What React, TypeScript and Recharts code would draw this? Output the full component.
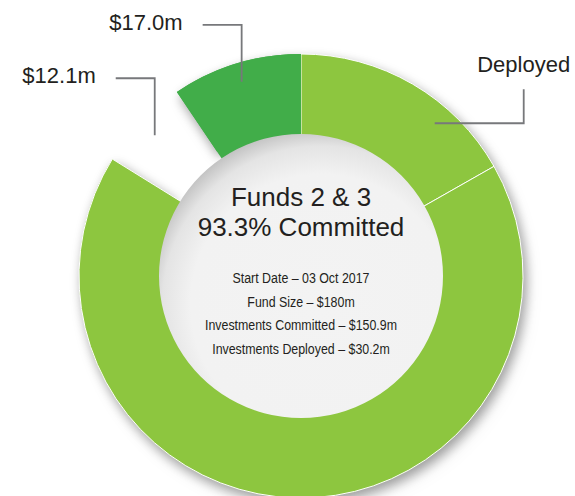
import React from 'react';
import { PieChart, Pie, Cell, Label } from 'recharts';

const categories = ['Deployed', 'Committed', 'Remaining', 'Uncommitted'];
const values = [30.2, 120.7, 12.1, 17.0];
const sliceLabels = ['Deployed', '', '$12.1m', '$17.0m'];
const colors = ['#8dc63f', '#8dc63f', 'transparent', '#41ad49'];
const centerTitle = ['Funds 2 & 3', '93.3% Committed'];
const centerDetails = [
  'Start Date – 03 Oct 2017',
  'Fund Size – $180m',
  'Investments Committed – $150.9m',
  'Investments Deployed – $30.2m',
];

const data = categories.map((name, i) => ({ name, value: values[i] }));
const centerData = [{ name: 'center', value: 1 }];

const RAD = Math.PI / 180;
const TEXT = '#231f20';
const LINE = '#77787b';
const SANS = '"Liberation Sans", Arial, Helvetica, sans-serif';

const renderLabel = (props: any) => {
  const { cx, cy, midAngle, outerRadius, index } = props;
  const text = sliceLabels[index];
  if (!text) return null;
  const r = outerRadius - 19;
  const angle = index === 0 ? midAngle - 11 : midAngle;
  const ax = cx + r * Math.cos(-angle * RAD);
  const ay = cy + r * Math.sin(-angle * RAD);
  let points: string;
  let tx: number;
  let ty: number;
  let anchor: 'start' | 'middle' | 'end';
  if (index === 0) {
    const ex = ax + 89;
    const ey = ay - 34;
    points = `${ax},${ay} ${ex},${ay} ${ex},${ey}`;
    tx = ex;
    ty = ey - 17;
    anchor = 'middle';
  } else {
    const ex = ax - 39;
    const ey = ay - 57;
    points = `${ax},${ay} ${ax},${ey} ${ex},${ey}`;
    tx = ex - 20;
    ty = ey + 5;
    anchor = 'end';
  }
  return (
    <g key={`lbl-${index}`}>
      <polyline points={points} fill="none" stroke={LINE} strokeWidth={1.8} />
      <text x={tx} y={ty} textAnchor={anchor} fill={TEXT} fontSize={22} fontFamily={SANS}>
        {text}
      </text>
    </g>
  );
};

const renderCenter = (props: any) => {
  const vb = props.viewBox || {};
  const cx = vb.cx ?? 301;
  const cy = vb.cy ?? 276;
  const titleY = [-70, -40];
  const detailY = [7, 31, 54, 78];
  return (
    <g>
      {centerTitle.map((t, i) => (
        <text key={t} x={cx} y={cy + titleY[i]} textAnchor="middle" fill={TEXT} fontSize={26} fontFamily={SANS}>
          {t}
        </text>
      ))}
      {centerDetails.map((t, i) => (
        <text
          key={t}
          x={0}
          y={0}
          transform={`translate(${cx} ${cy + detailY[i]}) scale(0.8 1)`}
          textAnchor="middle"
          fill={TEXT}
          fontSize={15.5}
          fontFamily={SANS}
        >
          {t}
        </text>
      ))}
    </g>
  );
};

export default function App() {
  return (
    <div style={{ position: 'absolute', left: 0, top: 0, width: 575, height: 496, background: '#fff' }}>
      <style>{`.ring-shadow { filter: drop-shadow(3px 5px 6px rgba(0,0,0,0.22)); }`}</style>
      <PieChart width={575} height={496} margin={{ top: 0, right: 0, bottom: 0, left: 0 }}>
        <defs>
          <radialGradient id="centerGrad" cx="0.57" cy="0.6" r="0.62">
            <stop offset="0" stopColor="#f3f3f3" />
            <stop offset="0.74" stopColor="#f2f2f2" />
            <stop offset="0.9" stopColor="#e4e4e4" />
            <stop offset="1" stopColor="#c4c4c4" />
          </radialGradient>
        </defs>
        <Pie
          className="ring-shadow"
          data={data}
          dataKey="value"
          nameKey="name"
          cx={301}
          cy={276}
          innerRadius={150}
          outerRadius={222}
          startAngle={90}
          endAngle={-270}
          stroke="none"
          isAnimationActive={false}
        >
          {data.map((d, i) => (
            <Cell key={d.name} fill={colors[i]} />
          ))}
        </Pie>
        <Pie
          data={data}
          dataKey="value"
          nameKey="name"
          cx={301}
          cy={276}
          innerRadius={140}
          outerRadius={222}
          startAngle={90}
          endAngle={-270}
          stroke="none"
          label={renderLabel}
          labelLine={false}
          isAnimationActive={false}
        >
          {data.map((d, i) => (
            <Cell
              key={d.name}
              fill={colors[i]}
              stroke={i < 2 ? '#ffffff' : 'none'}
              strokeWidth={i < 2 ? 1 : 0}
            />
          ))}
        </Pie>
        <Pie
          data={centerData}
          dataKey="value"
          cx={301}
          cy={276}
          innerRadius={0}
          outerRadius={142}
          startAngle={90}
          endAngle={-270}
          fill="url(#centerGrad)"
          stroke="none"
          isAnimationActive={false}
        >
          <Label content={renderCenter} position="center" />
        </Pie>
      </PieChart>
    </div>
  );
}
